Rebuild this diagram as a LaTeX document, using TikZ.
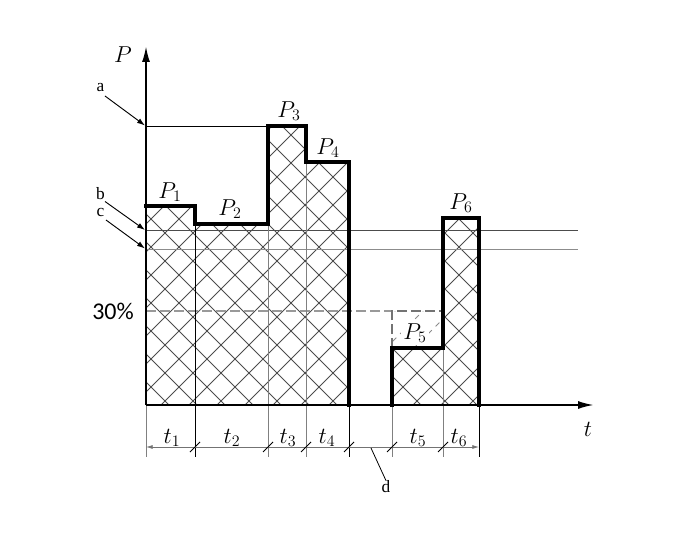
\documentclass[tikz,border=0pt]{standalone}
\usepackage{fontspec}
\newfontfamily\calfont{Carlito}
\newfontfamily\serfont{Liberation Serif}
\usetikzlibrary{arrows.meta}
\begin{document}
\begin{tikzpicture}[x=0.75pt,y=-0.75pt,
  outline/.style={line width=2.3pt, line join=miter, line cap=rect},
  axisline/.style={line width=1.5pt, -{Latex[length=12pt,width=6pt]}},
  thinline/.style={line width=0.6pt, black},
  grayline/.style={line width=0.6pt, black!50},
  hatchline/.style={line width=0.6pt, black!70},
  dashline/.style={line width=0.8pt, black!40, dash pattern=on 7.5pt off 3pt},
  dashhatch/.style={line width=0.55pt, black!45, dash pattern=on 4pt off 4pt},
  pointer/.style={line width=0.7pt, -{Latex[length=6pt,width=4pt]}},
  dimarrow/.style={line width=0.6pt, black!55, {Latex[length=5pt,width=3pt]}-{Latex[length=5pt,width=3pt]}},
  slash/.style={line width=0.6pt, black},
  mlabel/.style={font=\fontsize{17}{20}\selectfont, inner sep=0pt},
  letter/.style={font=\serfont\fontsize{13}{15}\selectfont, inner sep=0pt},
  pct/.style={font=\calfont\fontsize{18}{20}\selectfont, inner sep=0pt},
]
\useasboundingbox (0,0) rectangle (674,545);

% hatching, first block
\begin{scope}
\clip (146,405) -- (146,206) -- (195,206) -- (195,224) -- (268,224) -- (268,126) -- (306,126) -- (306,162) -- (349,162) -- (349,405) -- cycle;
\foreach \m in {-292,-264,...,400} \draw[hatchline] (\m+100,100) -- (\m+410,410);
\foreach \k in {230,258,...,910} \draw[hatchline] (\k-100,100) -- (\k-410,410);
\end{scope}
% hatching, second block
\begin{scope}
\clip (392,405) -- (392,348) -- (443,348) -- (443,218) -- (479,218) -- (479,405) -- cycle;
\foreach \m in {-292,-264,...,400} \draw[hatchline] (\m+100,100) -- (\m+410,410);
\foreach \k in {230,258,...,910} \draw[hatchline] (\k-100,100) -- (\k-410,410);
\end{scope}
% dashed hatching in the P5 box
\begin{scope}
\clip (392,311) rectangle (443,348);
\foreach \k in {230,258,...,910} \draw[dashhatch] (\k-300,300) -- (\k-360,360);
\end{scope}

% horizontal reference lines
\draw[thinline] (146,126) -- (268,126);
\draw[line width=0.6pt, black!70] (146,230.5) -- (578,230.5);
\draw[line width=0.6pt, black!45] (146,249) -- (578,249);
\draw[dashline] (146,311) -- (392,311);
\draw[dashline, black!55] (392,348) -- (392,311) -- (443,311);

% vertical inner and extension lines
\draw[grayline] (146,405) -- (146,457);
\draw[thinline] (195,224) -- (195,457);
\draw[grayline] (268,224) -- (268,457);
\draw[grayline] (306,162) -- (306,457);
\draw[thinline] (349,405) -- (349,457);
\draw[grayline] (392,405) -- (392,457);
\draw[grayline] (443,348) -- (443,457);
\draw[thinline] (479,405) -- (479,457);

% dimension line
\coordinate (dl) at (146,447);
\coordinate (dr) at (479,447);
\draw[dimarrow] (dl) -- (dr);
\foreach \x in {195,268,306,349,392,443} \draw[slash] (\x-5,452) -- (\x+5,442);

% step outline
\draw[outline] (146,206) -- (195,206) -- (195,224) -- (268,224) -- (268,126) -- (306,126) -- (306,162) -- (349,162) -- (349,405);
\draw[outline] (392,405) -- (392,348) -- (443,348) -- (443,218) -- (479,218) -- (479,405);

% axes
\coordinate (o) at (146,405);
\coordinate (ytip) at (146,46);
\coordinate (xtip) at (594,405);
\draw[axisline] (o) -- (ytip);
\draw[axisline] (o) -- (xtip);

% axis labels
\node[mlabel] (Plab) at (123,55) {$P$};
\node[mlabel] (tlab) at (588,429) {$t$};

% block labels
\node[mlabel] (P1) at (170,192) {$P_1$};
\node[mlabel] (P2) at (230,209) {$P_2$};
\node[mlabel] (P3) at (289,111) {$P_3$};
\node[mlabel] (P4) at (328,148) {$P_4$};
\node[mlabel, fill=white, inner sep=1.5pt] (P5) at (415,333) {$P_5$};
\node[mlabel] (P6) at (461,203) {$P_6$};

% duration labels
\node[mlabel] (t1) at (172,438) {$t_1$};
\node[mlabel] (t2) at (232,438) {$t_2$};
\node[mlabel] (t3) at (288,438) {$t_3$};
\node[mlabel] (t4) at (327,438) {$t_4$};
\node[mlabel] (t5) at (418,438) {$t_5$};
\node[mlabel] (t6) at (459,438) {$t_6$};

% 30 %
\node[pct] (pc) at (113,311) {30\%};

% pointer letters
\node[letter] (la) at (100.5,88) {a};
\node[letter] (lb) at (100.5,194) {b};
\node[letter] (lc) at (100.5,212.5) {c};
\node[letter] (ld) at (386,487) {d};
\coordinate (pa) at (145,125.5);
\coordinate (pb) at (145,230);
\coordinate (pc2) at (145,248.5);
\coordinate (pd) at (371,448);
\draw[pointer] (105,96) -- (pa);
\draw[pointer] (105,201.5) -- (pb);
\draw[pointer] (106,220) -- (pc2);
\draw[line width=0.6pt] (pd) -- (ld.north);
\end{tikzpicture}
\end{document}
